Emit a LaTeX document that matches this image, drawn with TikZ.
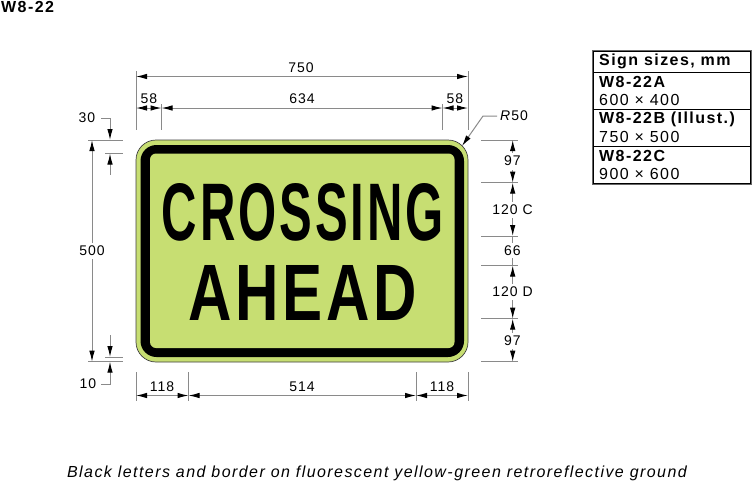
\documentclass[tikz,border=0pt]{standalone}
\usepackage{fontspec}
\usepackage{graphicx}
\setmainfont{Liberation Sans}
\newfontfamily\spaced[LetterSpace=7]{Liberation Sans}
\newfontfamily\spacedtb[LetterSpace=9]{Liberation Sans}
\newfontfamily\signfont[LetterSpace=6]{Liberation Sans}
\usetikzlibrary{arrows.meta}
\definecolor{ground}{HTML}{C7DE72}
\definecolor{dimgrey}{HTML}{8A8A8A}
\tikzset{
  x=1pt,y=-1pt,
  >={Latex[length=11pt,width=5.5pt,color=black]},
  dimline/.style={draw=dimgrey,line width=1pt},
  lab/.style={inner sep=0pt,font=\fontsize{14}{16}\selectfont\spaced,text=black},
  tb/.style={inner sep=0pt,anchor=west,font=\fontsize{16}{18}\selectfont\spacedtb,text=black},
  tbb/.style={inner sep=0pt,anchor=west,font=\fontsize{16}{18}\selectfont\spacedtb\bfseries,text=black},
}
\begin{document}
\begin{tikzpicture}
\useasboundingbox[fill=white] (0,0) rectangle (753,483);
\node[inner sep=0pt,anchor=west,font=\fontsize{16}{18}\selectfont\spacedtb\bfseries] (title) at (1,7) {W8-22};
% sign
\draw[fill=ground,draw=black!75,line width=0.7pt,rounded corners=20pt] (136,140) rectangle (468,362);
\fill[black,rounded corners=16pt] (140.5,145) rectangle (464,357);
\fill[ground,rounded corners=6pt] (150,153.5) rectangle (454.5,348);
\node[inner sep=0pt] (line1) at (303,212) {\resizebox{282pt}{57pt}{\signfont\bfseries CROSSING}};
\node[inner sep=0pt] (line2) at (303,293) {\resizebox{228pt}{55pt}{\signfont\bfseries AHEAD}};
% top
\draw[dimline] (136,71) -- (136,130);
\draw[dimline] (468,71) -- (468,130);
\draw[dimline] (161.5,104) -- (161.5,130);
\draw[dimline] (442.5,104) -- (442.5,130);
\draw[dimline,<->] (136,76.5) -- (468,76.5);
\draw[dimline,<->] (136,108) -- (161.5,108);
\draw[dimline,<->] (161.5,108) -- (442.5,108);
\draw[dimline,<->] (442.5,108) -- (468,108);
\node[lab] (t750) at (301,68) {750};
\node[lab] (t58a) at (149,99) {58};
\node[lab] (t634) at (302,99) {634};
\node[lab] (t58b) at (455,99) {58};
% left
\draw[dimline] (88,140) -- (123,140);
\draw[dimline] (105,153.5) -- (123,153.5);
\draw[dimline] (88,361.7) -- (123,361.7);
\draw[dimline] (105,357) -- (123,357);
\node[lab] (t30) at (87,118) {30};
\node[lab] (t500) at (92,251) {500};
\node[lab] (t10) at (88,384) {10};
\draw[dimline,<-] (92,140) -- (92,243);
\draw[dimline,<-] (92,361.7) -- (92,259);
\draw[dimline,->] (101,118) -- (110,118) -- (110,140);
\draw[dimline,<-] (110,153.5) -- (110,175);
\draw[dimline,<-] (110,357) -- (110,335);
\draw[dimline,->] (101,384) -- (110,384) -- (110,361.7);
% bottom
\foreach \xx in {136,188.5,416,468} \draw[dimline] (\xx,372) -- (\xx,401);
\draw[dimline,<->] (136,395.5) -- (188.5,395.5);
\draw[dimline,<->] (188.5,395.5) -- (416,395.5);
\draw[dimline,<->] (416,395.5) -- (468,395.5);
\node[lab] (t118a) at (162,387) {118};
\node[lab] (t514) at (302,387) {514};
\node[lab] (t118b) at (442,387) {118};
% right
\foreach \yy in {140,182.7,236,265.5,318.7,361.7} \draw[dimline] (481,\yy) -- (518,\yy);
\node[lab] (t97a) at (512.5,161) {97};
\node[lab] (t120c) at (512.5,210) {120\hspace{5pt}C};
\node[lab] (t66) at (512.5,251) {66};
\node[lab] (t120d) at (512.5,292) {120\hspace{5pt}D};
\node[lab] (t97b) at (512.5,341) {97};
\draw[dimline,<-] (512.7,140) -- (512.7,153);
\draw[dimline,<-] (512.7,182.7) -- (512.7,170);
\draw[dimline,<-] (512.7,182.7) -- (512.7,202);
\draw[dimline,<-] (512.7,236) -- (512.7,218);
\draw[dimline] (512.7,236) -- (512.7,243);
\draw[dimline] (512.7,258) -- (512.7,265.5);
\draw[dimline,<-] (512.7,265.5) -- (512.7,284);
\draw[dimline,<-] (512.7,318.7) -- (512.7,300);
\draw[dimline,<-] (512.7,318.7) -- (512.7,333);
\draw[dimline,<-] (512.7,361.7) -- (512.7,349);
% radius
\node[lab,anchor=west] (r50) at (500,116) {\textit{R}50};
\coordinate (rtip) at (462,146);
\draw[dimline,->] (497,116) -- (483,116) -- (rtip);
% table
\draw[black!60,line width=0.8pt] (592,50) rectangle (751,184);
\draw[black,line width=1pt] (593,51) rectangle (750,183);
\foreach \yy in {72,109,146} \draw[black,line width=1pt] (593,\yy) -- (750,\yy);
\node[tbb] (h) at (599,61) {Sign sizes, mm};
\node[tbb] (a1) at (599,82) {W8-22A};
\node[tb] (a2) at (599,100) {600 × 400};
\node[tbb] (b1) at (599,119) {W8-22B (Illust.)};
\node[tb] (b2) at (599,137) {750 × 500};
\node[tbb] (c1) at (599,156) {W8-22C};
\node[tb] (c2) at (599,174) {900 × 600};
% caption
\node[inner sep=0pt,font=\fontsize{16}{18}\selectfont\spacedtb\itshape] (cap) at (377,473) {Black letters and border on fluorescent yellow-green retroreflective ground};
\end{tikzpicture}
\end{document}
